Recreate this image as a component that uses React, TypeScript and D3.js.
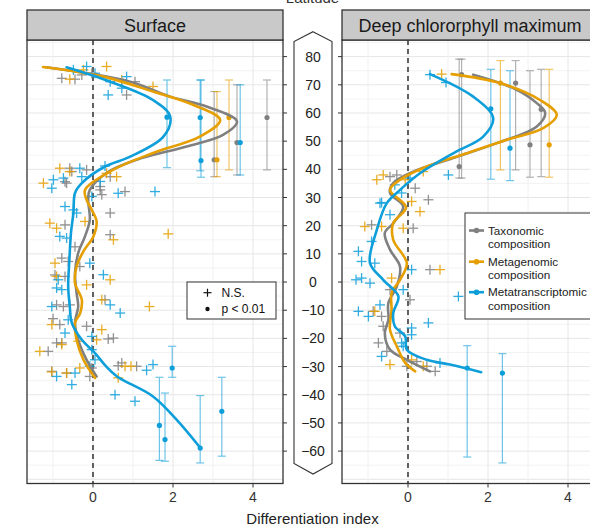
import React from "react";
import * as d3 from "d3";

// ---- latitude ticks ----
const latTicks = [80, 70, 60, 50, 40, 30, 20, 10, 0, -10, -20, -30, -40, -50, -60];
const xTicks = [0, 2, 4];

// ---- non-significant points: [differentiation index, latitude] ----
const surfTaxNS = [
  [-0.78, 72.3], [-0.45, 72], [-0.28, 73.5], [-0.03, 74.1], [1.05, 71.1], [0.84, 66.4],
  [-0.58, 40.4], [-0.16, 39.8], [-0.66, 35.1], [0.18, 33.9], [0.43, 37.4], [0.8, 32.1], [0.22, 31],
  [-0.53, 39.2], [-0.7, 35.6], [0.18, 32.7], [0.43, 24.5], [-0.7, 20.3], [0.43, 16.8],
  [-0.78, 8.5], [-0.62, 7.3], [-0.33, 5.5], [-0.7, 2], [-0.91, -8.1], [-0.74, -8.7], [-0.58, -8.1],
  [0.3, -6.3], [-0.83, -15.1], [-0.16, -15.7], [0.51, -19.9], [-0.78, -21.6], [-1.12, -24.6],
  [0.72, -28.7], [-0.03, -30.5], [-0.91, -21.6], [0.38, -20.2], [-1.03, -31.7], [-0.66, -32.3],
  [0.63, -29.7], [1.09, -29.9], [-0.08, -33.5], [-0.95, 2.5], [-0.45, 12.5], [-1.0, -13],
];
const surfMetaNS = [
  [0.34, 76.5], [-0.58, 72], [-0.24, 75.3], [1.5, 69.4], [0.72, 71.7],
  [-0.83, 40.4], [-1.24, 35.1], [-0.58, 39.2], [0.59, 37.4], [0.34, 38.6],
  [-1.08, 20.9], [-0.91, 19.1], [-0.2, 21.5], [0.51, 15], [-0.95, 6.7], [-0.91, 2],
  [-0.16, -1], [0.43, 0.8], [0.22, -6.3], [-1.03, -15.1], [0.22, -16.9], [-0.37, -21],
  [-0.66, -32.3], [0.8, -29.9], [1.88, 17.1], [1.41, -8.7], [-1.33, -24.6], [-0.78, -22.2],
  [-0.33, -30.5], [0.09, -20.5], [0.63, -34], [-1.03, -31.9], [0.95, -29.9],
];
const surfMetaTNS = [
  [-0.16, 76.5], [0.05, 74.1], [0.43, 71.1], [0.84, 72.9], [0.72, 68.8], [0.38, 66.4], [-0.49, 75.3],
  [-0.99, 36.3], [-0.74, 36.9], [-1.03, 33.3], [-0.33, 40.4], [-0.28, 37.4], [0.3, 41.2],
  [0.63, 31.5], [1.55, 32.1], [0.18, 35.7], [-0.7, 26.8], [-0.49, 25.6], [-0.41, 24.5],
  [-0.83, 16.2], [-0.66, 15.6], [-0.03, 30.4], [-0.08, 6.7], [0.26, 2.6], [-0.87, 0.8],
  [-0.91, -2.1], [-0.78, -2.7], [-1.03, -8.7], [0.43, -8.1], [0.68, -11], [-0.62, -13.4],
  [-0.7, -18.1], [-0.03, -19.3], [0.05, -27.6], [-0.45, -32.3], [-0.91, -33.5], [-0.53, -36.4],
  [-0.08, -29.9], [1.34, -31.3], [1.5, -29.3], [0.55, -40], [1.05, -42.3], [-0.03, -24],
];
const dcmTaxNS = [
  [-0.45, 37.4], [-0.28, 38], [0.18, 33.3], [0.51, 29.2], [-0.91, 20.3], [0.13, 19.1],
  [0.55, 4.4], [-0.45, -2.7], [0.05, -6.3], [-0.87, -10.4], [-0.66, -12.2], [-0.62, -15.7],
  [-0.2, -18.1], [-0.74, -21.6], [-0.53, -24.6], [0.47, -29.9], [0.68, -31.7], [0.22, -28.2],
  [-0.03, -29.9],
];
const dcmMetaNS = [
  [0.84, 73.8], [-0.78, 36.3], [-0.62, 38], [-0.07, 36.3], [0.38, 39.2], [-1.08, 19.7],
  [-0.12, 19.1], [-0.66, 19.7], [0.09, 28.6], [0.3, 25], [0.8, 4.4], [-0.41, 1.4],
  [-0.83, -10.4], [-0.45, -29.3], [0.38, -29.9], [0.09, -27.6],
];
const dcmMetaTNS = [
  [0.55, 73.6], [0.95, 70.8], [1.01, 38], [0.05, 36.9], [-0.66, 28.2], [-0.33, 34.5],
  [-0.7, 28], [-0.45, 23.9], [-1.24, 10.9], [-1.16, 7.3], [-0.83, 6.7], [-0.91, 14.4],
  [-1.3, 0.8], [-1.16, 1.4], [-0.95, -0.4], [0.09, 4.4], [-0.12, -2.7], [-0.7, -8.1],
  [-1.24, -10.4], [-0.99, -12.2], [0.51, -14.5], [1.26, -5.1], [0.09, -16.3], [0.09, -18.7],
  [-0.12, -22.8], [-0.66, -26.4], [-0.16, 31.6], [0.8, -28.7], [-0.16, -21.6],
];

// ---- significant points: [index, latitude, lower latitude, upper latitude] ----
const surfTaxSig = [[4.35, 58.4, 39.8, 71.7], [3.6, 49.5, 38, 70], [3.03, 43.4, 37.4, 67.6]];
const surfMetaSig = [[3.4, 58.4, 39.8, 71.7], [3.1, 43.4, 37.4, 67.6]];
const surfMetaTSig = [
  [1.85, 58.5, 40.6, 71.7], [2.68, 58.4, 39.5, 71.7], [2.7, 43.1, 37.2, 71.7], [3.68, 49.5, 38, 70],
  [1.98, -30.5, -33.8, -22.8], [1.66, -50.9, -63.3, -33.8], [1.8, -55.9, -63.6, -39.4],
  [2.68, -58.9, -64.2, -40.3], [3.22, -45.9, -61.8, -33.8],
];
const dcmTaxSig = [
  [1.34, 73.6, 36.9, 79.1], [1.28, 41, 36.9, 79.1], [2.69, 70.6, 39.8, 78.6],
  [3.05, 48.7, 37.2, 75], [3.33, 61.3, 37.4, 75.5],
];
const dcmMetaSig = [[2.31, 70.6, 39.8, 78.6], [3.53, 48.7, 37.2, 75.5]];
const dcmMetaTSig = [
  [2.07, 61.5, 36.5, 75.5], [2.55, 47.5, 36, 75],
  [1.48, -30.5, -62.1, -22.6], [2.36, -32.3, -64.2, -25.4],
];

// ---- smoothed fits: [index, latitude] ----
const surfTaxFit = [
  [-1.17, 76.2], [0.93, 71.1], [1.93, 65.8], [2.84, 62.3], [3.6, 57], [3.25, 52.2], [2.34, 48.1],
  [1.09, 43.4], [0.34, 38.7], [-0.08, 32.7], [-0.12, 29.2], [-0.08, 22.1], [-0.2, 16.2],
  [-0.37, 10.3], [-0.45, 3.2], [-0.41, -3.9], [-0.37, -8.7], [-0.45, -14.4], [-0.37, -20.5],
  [-0.16, -27.6], [0.09, -33.5],
];
const surfMetaFit = [
  [-1.25, 76.3], [0.25, 72.9], [1.5, 67.6], [2.5, 62.9], [3.18, 57.5], [2.67, 51.6], [1.5, 45.8],
  [0.5, 39.8], [-0.2, 32.7], [-0.16, 29.2], [-0.03, 25.6], [0.09, 21.5], [0.01, 16.2],
  [-0.24, 10.9], [-0.41, 5.5], [-0.45, -0.4], [-0.28, -6.3], [-0.32, -11], [-0.45, -14.5],
  [-0.41, -20.5], [-0.24, -27.6], [0.05, -34],
];
const surfMetaTFit = [
  [-0.66, 76.2], [0.43, 71.1], [1.5, 64.6], [1.93, 58.7], [1.76, 51.6], [0.93, 44.5], [0.3, 41],
  [-0.28, 35.1], [-0.45, 31.6], [-0.49, 24.5], [-0.55, 17.5], [-0.59, 7.9], [-0.62, -1.6],
  [-0.58, -8.7], [-0.53, -14.5], [-0.28, -20.5], [0.05, -25.2], [0.3, -29.5], [0.6, -33.5],
  [1.5, -40.6], [2.1, -49], [2.68, -58.8],
];
const dcmTaxFit = [
  [1.63, 73.6], [2.63, 68.8], [3.22, 63.5], [3.43, 60], [3.22, 55.2], [2.22, 49.3], [1.13, 44],
  [0.13, 39.2], [-0.37, 35.1], [-0.45, 31.6], [-0.12, 26.8], [-0.37, 20.9], [-0.58, 17.4],
  [-0.45, 11.5], [-0.2, 5.5], [-0.28, -1.6], [-0.49, -7.4], [-0.49, -13.4], [-0.58, -18.1],
  [-0.45, -24], [-0.03, -27.6], [0.55, -31.7],
];
const dcmMetaFit = [
  [1.09, 73.8], [2.3, 70.6], [3.3, 64.6], [3.72, 59.3], [3.38, 54.6], [2.47, 50.5], [1.47, 45.7],
  [0.47, 41], [-0.2, 36.3], [-0.45, 32.7], [-0.05, 26.5], [-0.37, 20.9], [-0.37, 15],
  [-0.03, 6.7], [-0.2, 0.8], [-0.41, -3.9], [-0.41, -9.8], [-0.45, -16.9], [-0.28, -22.8],
  [-0.07, -28.7], [0.18, -31.7],
];
const dcmMetaTFit = [
  [0.55, 73.8], [1.63, 65.8], [2.13, 58.2], [1.88, 51.6], [1.13, 45.7], [0.3, 38.6], [-0.2, 32.7],
  [-0.53, 28], [-0.78, 18.5], [-0.95, 6.7], [-0.62, 0.8], [-0.24, -5.1], [-0.37, -11],
  [-0.33, -15.7], [-0.07, -19.3], [-0.03, -24], [0.47, -27.6], [1.05, -29.3], [1.83, -32],
];

const seriesNames = ["Taxonomic", "Metagenomic", "Metatranscriptomic"];
const colors = ["#808080", "#E69F00", "#0E9FDB"];

const FONT = "'Liberation Sans', Arial, sans-serif";
const yScale = d3.scaleLinear().domain([-71.5, 85.9]).range([483.5, 40]);
const PANEL_TOP = 10;
const STRIP_H = 30;
const PLOT_TOP = 40;
const PLOT_BOTTOM = 483.5;

type Pt = number[];

function Panel({ left, title, ns, sig, fits, id, tickSide }: {
  left: number; title: string; ns: Pt[][]; sig: Pt[][]; fits: Pt[][]; id: string; tickSide: "left" | "right";
}) {
  const width = 256;
  const x = d3.scaleLinear().domain([-1.65, 4.75]).range([left, left + width]);
  const line = d3.line<Pt>().x((d) => x(d[0])).y((d) => yScale(d[1])).curve(d3.curveCatmullRom.alpha(0.5));
  const minorLat = d3.range(-70, 90, 5).filter((v) => v % 10 !== 0);
  const majorLat = d3.range(-70, 90, 10);
  const xGrid = [-1, 0, 1, 2, 3, 4];
  return (
    <g>
      <defs>
        <clipPath id={id}>
          <rect x={left} y={PLOT_TOP} width={width} height={PLOT_BOTTOM - PLOT_TOP} />
        </clipPath>
      </defs>
      <rect x={left} y={PLOT_TOP} width={width} height={PLOT_BOTTOM - PLOT_TOP} fill="#fff" />
      <g clipPath={`url(#${id})`}>
        {minorLat.map((v) => (
          <line key={"mn" + v} x1={left} x2={left + width} y1={yScale(v)} y2={yScale(v)} stroke="#f0f0f0" strokeWidth={0.8} />
        ))}
        {majorLat.map((v) => (
          <line key={"mj" + v} x1={left} x2={left + width} y1={yScale(v)} y2={yScale(v)} stroke="#e6e6e6" strokeWidth={1} />
        ))}
        {xGrid.map((v) => (
          <line key={"xg" + v} x1={x(v)} x2={x(v)} y1={PLOT_TOP} y2={PLOT_BOTTOM} stroke={v % 2 === 0 ? "#e6e6e6" : "#f0f0f0"} strokeWidth={1} />
        ))}
        <line x1={x(0)} x2={x(0)} y1={PLOT_TOP} y2={PLOT_BOTTOM} stroke="#111" strokeWidth={1.3} strokeDasharray="5,4" />
        {ns.map((pts, si) =>
          pts.map((d, i) => {
            const cx = x(d[0]);
            const cy = yScale(d[1]);
            return (
              <g key={`ns${si}-${i}`} stroke={colors[si]} strokeWidth={1.3} opacity={0.85}>
                <line x1={cx - 5} x2={cx + 5} y1={cy} y2={cy} />
                <line x1={cx} x2={cx} y1={cy - 5} y2={cy + 5} />
              </g>
            );
          })
        )}
        {sig.map((pts, si) =>
          pts.map((d, i) => {
            const cx = x(d[0]);
            return (
              <g key={`eb${si}-${i}`} stroke={colors[si]} strokeWidth={1.2} opacity={0.6}>
                <line x1={cx} x2={cx} y1={yScale(d[2])} y2={yScale(d[3])} />
                <line x1={cx - 4} x2={cx + 4} y1={yScale(d[2])} y2={yScale(d[2])} />
                <line x1={cx - 4} x2={cx + 4} y1={yScale(d[3])} y2={yScale(d[3])} />
              </g>
            );
          })
        )}
        {sig.map((pts, si) =>
          pts.map((d, i) => (
            <circle key={`pt${si}-${i}`} cx={x(d[0])} cy={yScale(d[1])} r={2.6} fill={colors[si]} />
          ))
        )}
        {fits.map((pts, si) => (
          <path key={`fit${si}`} d={line(pts) || ""} fill="none" stroke={colors[si]} strokeWidth={2.6} strokeLinecap="round" />
        ))}
      </g>
      <rect x={left} y={PLOT_TOP} width={width} height={PLOT_BOTTOM - PLOT_TOP} fill="none" stroke="#333" strokeWidth={1.3} />
      <rect x={left} y={PANEL_TOP} width={width} height={STRIP_H} fill="#c9c9c9" stroke="#333" strokeWidth={1.3} />
      <text x={left + width / 2} y={PANEL_TOP + 21.5} textAnchor="middle" fontFamily={FONT} fontSize={18} fill="#1a1a1a">
        {title}
      </text>
      {latTicks.map((v) => {
        const xa = tickSide === "right" ? left + width : left;
        const xb = tickSide === "right" ? xa + 4 : xa - 4;
        return <line key={"yt" + v} x1={xa} x2={xb} y1={yScale(v)} y2={yScale(v)} stroke="#333" strokeWidth={1} />;
      })}
      {xTicks.map((v) => (
        <g key={"xt" + v}>
          <line x1={x(v)} x2={x(v)} y1={PLOT_BOTTOM} y2={PLOT_BOTTOM + 4} stroke="#333" strokeWidth={1} />
          <text x={x(v)} y={502} textAnchor="middle" fontFamily={FONT} fontSize={14} fill="#333">
            {v}
          </text>
        </g>
      ))}
    </g>
  );
}

export default function App() {
  const cx = 313;
  const hex = [
    [cx, 31.7], [332, 41.5], [332, 463.5], [cx, 474], [294, 463.5], [294, 41.5],
  ].map((p) => p.join(",")).join(" ");
  return (
    <svg width={590} height={528} style={{ position: "absolute", left: 0, top: 0, background: "#fff" }}>
      <rect width={590} height={528} fill="#fff" />
      <text x={312.5} y={2.5} textAnchor="middle" fontFamily={FONT} fontSize={15} fill="#333">Latitude</text>
      <Panel
        left={27}
        title="Surface"
        id="clipSurface"
        tickSide="right"
        ns={[surfTaxNS, surfMetaNS, surfMetaTNS]}
        sig={[surfTaxSig, surfMetaSig, surfMetaTSig]}
        fits={[surfTaxFit, surfMetaFit, surfMetaTFit]}
      />
      <Panel
        left={342}
        title="Deep chlororphyll maximum"
        id="clipDcm"
        tickSide="left"
        ns={[dcmTaxNS, dcmMetaNS, dcmMetaTNS]}
        sig={[dcmTaxSig, dcmMetaSig, dcmMetaTSig]}
        fits={[dcmTaxFit, dcmMetaFit, dcmMetaTFit]}
      />
      {/* latitude scale between the panels */}
      <polygon points={hex} fill="#fff" stroke="#333" strokeWidth={1.1} />
      {latTicks.map((v) => (
        <text key={"lat" + v} x={cx} y={yScale(v)} dy="0.36em" textAnchor="middle" fontFamily={FONT} fontSize={14} fill="#222">
          {v < 0 ? `\u2212${Math.abs(v)}` : `${v}`}
        </text>
      ))}
      {/* significance legend */}
      <g fontFamily={FONT} fontSize={12} fill="#111">
        <rect x={187} y={282} width={89} height={37} fill="#fff" stroke="#333" strokeWidth={1} />
        <line x1={203.5} x2={211.5} y1={292.7} y2={292.7} stroke="#111" strokeWidth={1.2} />
        <line x1={207.5} x2={207.5} y1={288.7} y2={296.7} stroke="#111" strokeWidth={1.2} />
        <text x={221.5} y={292.7} dy="0.36em">N.S.</text>
        <circle cx={207.5} cy={309} r={2.2} fill="#111" />
        <text x={221.5} y={309} dy="0.36em">p &lt; 0.01</text>
      </g>
      {/* series legend */}
      <g fontFamily={FONT} fontSize={11.7} fill="#222">
        <rect x={465} y={213} width={140} height={106} fill="#fff" stroke="#333" strokeWidth={1} />
        {seriesNames.map((name, i) => {
          const yy = [230.5, 261.7, 292.2][i];
          return (
            <g key={name}>
              <line x1={469} x2={484} y1={yy} y2={yy} stroke={colors[i]} strokeWidth={2.6} />
              <circle cx={476.5} cy={yy} r={2.8} fill={colors[i]} />
              <text x={488} y={yy} dy="0.36em">{name}</text>
              <text x={488} y={yy + 13.2} dy="0.36em">composition</text>
            </g>
          );
        })}
      </g>
      <text x={312.5} y={524} textAnchor="middle" fontFamily={FONT} fontSize={15} fill="#222">
        Differentiation index
      </text>
    </svg>
  );
}
